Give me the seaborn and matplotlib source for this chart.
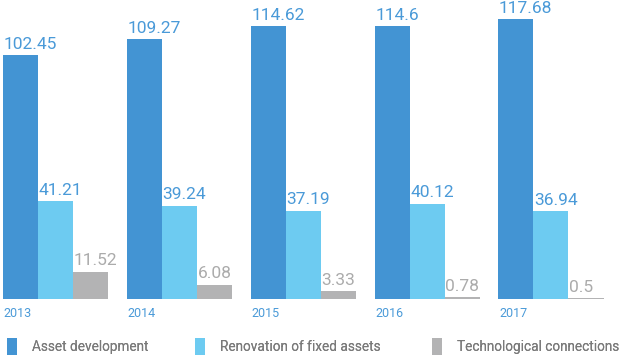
import numpy as np
import pandas as pd
import seaborn as sns
import matplotlib.pyplot as plt
from matplotlib.patches import Patch

years = ["2013", "2014", "2015", "2016", "2017"]
series = ["Asset development", "Renovation of fixed assets", "Technological connections"]
asset_dev = [102.45, 109.27, 114.62, 114.6, 117.68]
renovation = [41.21, 39.24, 37.19, 40.12, 36.94]
tech_conn = [11.52, 6.08, 3.33, 0.78, 0.5]

colors = ["#4394d3", "#6dcbf1", "#b3b3b4"]
label_colors = ["#4a9ad8", "#4a9ad8", "#ababab"]

df = pd.DataFrame({
    "year": years * 3,
    "series": np.repeat(series, len(years)),
    "value": asset_dev + renovation + tech_conn,
})

sns.set_style("white")
plt.rcParams["font.family"] = ["Roboto", "DejaVu Sans"]

fig = plt.figure(figsize=(6.2, 3.55), dpi=100)
ax = fig.add_axes([0, 56 / 355, 1, 299 / 355])

sns.barplot(data=df, x="year", y="value", hue="series", order=years,
            hue_order=series, palette=colors, width=0.85, saturation=1,
            linewidth=0, ax=ax, legend=False)

ax.set_xlim(-0.45, 4.558)
ax.set_ylim(0, 125.7)
ax.set_axis_off()

# value labels above each bar, left aligned to the bar
for cont, lc in zip(ax.containers, label_colors):
    for bar in cont:
        h = bar.get_height()
        ax.annotate(f"{h:g}", (bar.get_x(), h),
                    xytext=(0.5, 4.5), textcoords="offset points",
                    ha="left", va="baseline", fontsize=12.5, color=lc)

# year labels under first bar of each group
for bar, yr in zip(ax.containers[0], years):
    ax.annotate(yr, (bar.get_x(), 0), xytext=(0.5, -6), textcoords="offset points",
                ha="left", va="top", fontsize=9, color="#4a9ad8")

# legend entries
leg_x = [6, 194, 431]
for c, s, lx in zip(colors, series, leg_x):
    leg = fig.legend(handles=[Patch(facecolor=c, edgecolor="none", label=s)],
                     loc="lower left", bbox_to_anchor=(lx / 620, -0.006),
                     frameon=False, fontsize=9.8, handlelength=0.7, handleheight=1.6,
                     handletextpad=1.1, borderaxespad=0, borderpad=0.1,
                     labelcolor="#7a7a7a")
    fig.add_artist(leg)

fig.savefig("out.png", dpi=100)
